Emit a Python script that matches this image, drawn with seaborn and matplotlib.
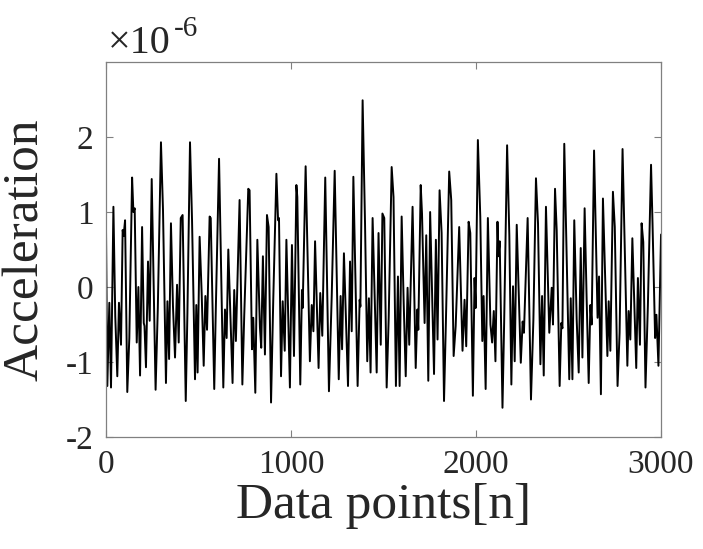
import matplotlib
matplotlib.use("Agg")
import matplotlib.pyplot as plt
import seaborn as sns
import pandas as pd

# peaks / troughs (acceleration in units of 1e-6)
data_points = [0, 7, 18, 27, 40, 50, 61, 70, 81, 90, 95, 103, 115, 126, 141, 148, 155, 166, 175, 184,
               195, 204, 208, 216, 227, 236, 247, 268, 280, 297, 308, 324, 332, 341, 351, 362, 373, 384,
               393, 404, 414, 431, 440, 454, 465, 481, 488, 495, 506, 517, 528, 537, 546, 560, 566, 585,
               593, 611, 634, 643, 652, 661, 684, 693, 702, 722, 737, 747, 769, 776, 789, 796, 807, 818,
               832, 839, 848, 859, 870, 879, 892, 904, 921, 930, 935, 946, 955, 966, 975, 994, 1005, 1016,
               1029, 1034, 1050, 1059, 1063, 1079, 1102, 1112, 1121, 1130, 1149, 1158, 1169, 1185, 1205,
               1220, 1236, 1258, 1268, 1276, 1286, 1308, 1319, 1328, 1337, 1360, 1371, 1375, 1387, 1400,
               1412, 1421, 1430, 1441, 1463, 1473, 1485, 1494, 1504, 1517, 1528, 1544, 1554, 1567, 1578,
               1587, 1598, 1609, 1620, 1630, 1639, 1657, 1674, 1683, 1688, 1701, 1708, 1722, 1731, 1742,
               1752, 1773, 1783, 1792, 1803, 1814, 1827, 1837, 1855, 1866, 1879, 1890, 1909, 1927, 1938,
               1947, 1960, 1969, 1983, 1992, 1998, 2010, 2023, 2034, 2041, 2052, 2064, 2078, 2087, 2096,
               2105, 2116, 2121, 2128, 2143, 2152, 2168, 2180, 2191, 2200, 2209, 2220, 2242, 2252, 2259,
               2279, 2297, 2310, 2324, 2335, 2348, 2357, 2366, 2378, 2396, 2409, 2416, 2427, 2436, 2452,
               2461, 2467, 2477, 2504, 2512, 2521, 2531, 2544, 2555, 2566, 2575, 2587, 2598, 2609, 2618,
               2625, 2638, 2657, 2665, 2675, 2686, 2710, 2717, 2726, 2740, 2750, 2765, 2776, 2792, 2818,
               2825, 2834, 2845, 2866, 2875, 2886, 2895, 2904, 2916, 2929, 2946, 2954, 2968, 2975, 2986,
               3000]
acceleration = [0.76, -1.32, -0.21, -1.34, 1.07, -0.39, -1.19, -0.21, -0.77, 0.76, 0.68, 0.89, -1.40, -0.68,
                1.46, 1.00, 1.05, -0.74, 0.00, -1.18, 0.80, -0.48, -0.52, -1.07, 0.34, -0.45, 1.44, -1.37,
                -0.28, 1.93, 1.03, -1.28, -0.19, -0.96, 0.85, -0.26, -0.94, 0.03, -0.74, 0.92, 0.96, -1.52,
                -0.35, 1.93, 0.89, -1.23, -0.24, -1.14, 0.67, -0.08, -1.05, -0.12, -0.57, 0.94, 0.92, -1.36,
                -0.35, 1.71, -1.34, -0.30, -0.68, 0.50, -1.28, -0.04, -0.72, 1.16, -1.30, -0.39, 1.31, 1.29,
                -0.83, -0.41, -1.41, 0.63, -0.54, -0.81, 0.41, -0.90, 0.96, 0.80, -1.54, -0.17, 1.51, 0.89,
                0.92, -1.19, -0.19, -0.85, 0.63, -1.34, 0.56, -0.92, 1.36, 1.20, -1.30, -0.04, -0.28, 1.61,
                -0.99, -0.24, -0.59, 0.61, -1.08, -0.08, -0.65, 1.46, -1.39, -0.12, 1.55, -1.23, -0.12,
                -0.83, 0.45, -1.32, 0.34, -0.59, 1.47, -1.32, -0.17, -0.26, 2.49, 0.85, -0.99, -0.15, -1.14,
                0.92, -1.14, 0.72, -0.77, 0.98, 0.92, -1.34, -0.41, 1.60, 1.20, -1.32, 0.14, -1.32, 0.94,
                -0.21, -1.19, -0.01, -0.77, 1.07, -1.08, -0.30, -0.57, 1.36, 0.98, -0.48, 0.69, -1.25, 1.00,
                -1.16, 0.63, -0.70, 1.29, 0.72, -1.52, -0.48, 1.54, 1.16, -0.92, -0.52, 0.80, -0.85, -0.17,
                -0.79, 0.87, 0.72, -1.45, 0.12, -0.28, 1.96, 0.94, -0.72, -0.12, -1.36, 0.92, -0.50, -0.74,
                -0.32, -0.99, 0.87, 0.41, 0.61, -1.61, -0.48, 1.89, 0.69, -1.30, 0.01, -0.99, 0.83, -1.01,
                -0.46, -0.61, 0.92, -1.50, -0.44, 1.45, 0.85, -1.03, -0.12, -1.18, 1.07, -0.61, -0.01,
                -0.50, 1.31, 0.76, -1.32, -0.48, -0.55, 1.91, -1.23, -0.15, -1.23, 0.89, -0.43, -1.14, 0.52,
                -0.94, 1.05, -0.17, -1.28, -0.24, -0.50, 1.82, -0.41, 0.14, -1.43, 1.18, -0.92, -0.19, -0.85,
                1.27, 0.80, -1.32, -0.61, 1.84, -1.05, -0.32, -0.70, 0.65, -1.08, 0.12, -0.77, 0.85, 0.60,
                -1.34, -0.24, 1.63, 0.85, -0.68, -0.37, -1.05, 0.70]

x_ticks = [0, 1000, 2000, 3000]
y_ticks = [-2, -1, 0, 1, 2]

sns.set_style("ticks")
plt.rcParams['font.family'] = ['Liberation Serif', 'DejaVu Serif']
plt.rcParams['axes.unicode_minus'] = False

df = pd.DataFrame({'n': data_points, 'acc': acceleration})

fig = plt.figure(figsize=(7.03, 5.49), dpi=100)
ax = fig.add_axes([0.1508, 0.204, 0.7895, 0.683])
sns.lineplot(data=df, x='n', y='acc', color='black', linewidth=1.4, ax=ax)

ax.set_xlim(0, 3000)
ax.set_ylim(-2, 3)
ax.set_xticks(x_ticks)
ax.set_yticks(y_ticks)
ax.tick_params(direction='in', top=True, right=True, labelsize=24, length=5,
               color='#808080', width=0.8, pad=9)
for sp in ax.spines.values():
    sp.set_color('#808080')
    sp.set_linewidth(0.9)

ax.set_xlabel('Data points[n]', fontsize=37, labelpad=2)
ax.set_ylabel('Acceleration', fontsize=37, labelpad=12)

# exponent label, MATLAB style
fig.text(108 / 703, 1 - 53 / 549, '\u00d710', fontsize=29, ha='left', va='baseline')
fig.text(174 / 703, 1 - 36 / 549, '-6', fontsize=21, ha='left', va='baseline')

fig.savefig('out.png', dpi=100)
